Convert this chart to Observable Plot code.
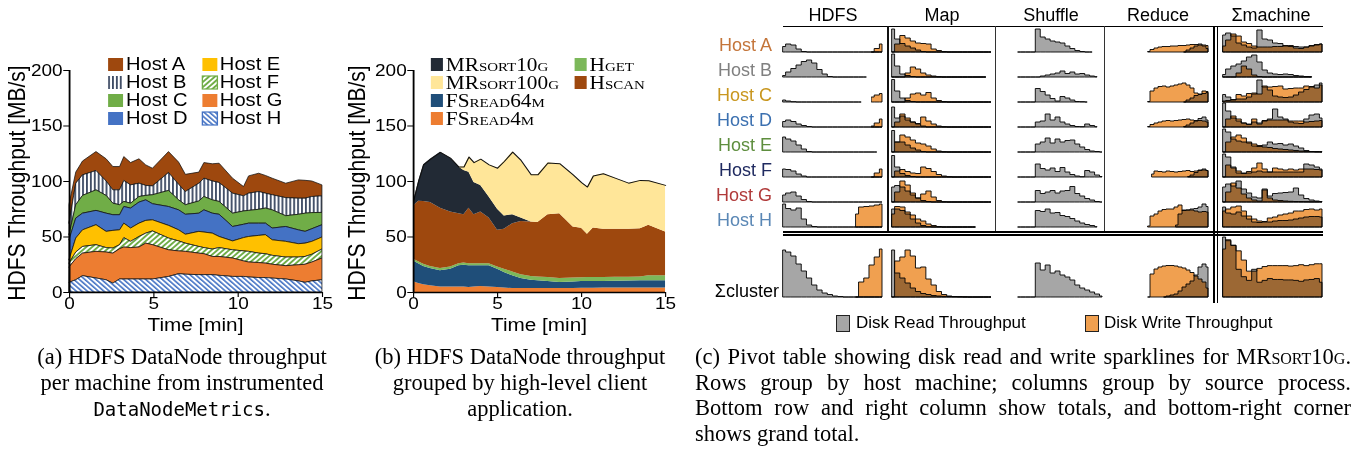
<!DOCTYPE html>
<html><head><meta charset="utf-8">
<script src="https://cdn.jsdelivr.net/npm/d3@7"></script>
<script src="https://cdn.jsdelivr.net/npm/@observablehq/plot@0.6"></script>
<style>
html,body{margin:0;padding:0;background:#fff;}
body{width:1364px;height:467px;overflow:hidden;position:relative;font-family:"Liberation Sans",Arial,sans-serif;color:#000;}
#root{position:absolute;left:0;top:0;width:1364px;height:467px;}
.t{position:absolute;white-space:nowrap;line-height:1.15;}
.serif{font-family:"Liberation Serif","Times New Roman",serif;}
.sc{font-variant:small-caps;}
.mono{font-family:"DejaVu Sans Mono",monospace;}
</style></head><body>
<svg width="0" height="0" style="position:absolute;left:0;top:0">
<defs>
<pattern id="patB" patternUnits="userSpaceOnUse" width="3.4" height="10"><rect width="3.4" height="10" fill="#fff"/><rect width="1.6" height="10" fill="#3e4b64"/></pattern>
<pattern id="patF" patternUnits="userSpaceOnUse" width="3.6" height="4" patternTransform="rotate(45)"><rect width="3.6" height="4" fill="#fff"/><rect width="1.8" height="4" fill="#70ad47"/></pattern>
<pattern id="patH" patternUnits="userSpaceOnUse" width="3.4" height="4" patternTransform="rotate(-45)"><rect width="3.4" height="4" fill="#fff"/><rect width="1.5" height="4" fill="#4472c4"/></pattern>
</defs></svg>
<div id="root"></div>
<script>
// ---------------- Panel (a) data: per-host HDFS throughput [MB/s] ----------------
const timesA = [0,0.4,0.8,1.6,2.2,2.6,3,3.25,3.65,4.15,4.55,4.95,5.9,6.5,6.9,7.7,8,8.5,8.9,9.7,10.35,10.65,11.25,11.65,12.05,12.85,13.6,14,14.4,15];
const hostNames = ["Host A","Host B","Host C","Host D","Host E","Host F","Host G","Host H"];
const hostA = [17,10,12.5,17.1,20,21,21,21.6,20.1,22,18.5,15.9,18.9,20,15.5,10,14.1,15.5,17.4,13.5,8.4,15.6,16.5,16,14.9,13,16.5,16.1,14,9.9];
const hostB = [10.4,19.4,18.5,17.4,13,12,13.4,18.8,16.5,12,9,8,16.1,14,11.9,16,16.5,17,17,18,13.6,15.5,16,13.4,13.6,16.3,14.5,13.5,14.5,14.9];
const hostC = [4.6,12,16,18.5,16,10.4,9,4.6,4.4,5,4,8.1,14.5,9,8.6,11,12,12,11.6,12,12,11.5,12.5,13.6,16.4,9.7,14,16.4,14.5,11.1];
const hostD = [18,18,15,12.9,16.4,14.1,13.6,15,18,19,18.5,14.5,17,18,18,16.4,20,18,20,13,12,12,11,10.4,10.6,13.4,12.5,10.6,11.4,11.1];
const hostE = [3,12.6,15,18,14.6,15.9,13.4,13,12,12,11.5,10,11.4,10,8,13.6,14,14.3,10,8,12,13.4,16,17.1,14,14.1,12,12,11.6,10.8];
const hostF = [3.5,6,6,6,4,4.6,3.6,8.5,5.6,9.5,9,12.4,10.6,9,7.4,6,5.5,6.7,8,7.4,9,9.6,8.5,8.5,8,7.8,7,7,7,8.1];
const hostG = [13.8,19,20.3,24,25,27,27.3,28.8,28.3,28.8,32.3,30.9,24,20.5,20.6,19.4,18.9,16.4,17,16.6,14,13.5,13.5,13,12.5,12,14.5,16.3,17,19.6];
const hostH = [8.7,11,14.7,12.6,11,8,11.7,11.7,11.7,11.7,11.7,11.7,14,16.5,16,15.6,15.6,15.6,15,14,14,13.5,13,13,12.5,11.7,10,8.7,10,11];
const hostFills = ["#9e480e","url(#patB)","#70ad47","#4472c4","#ffc000","url(#patF)","#ed7d31","url(#patH)"];

// ---------------- Panel (b) data: per-application throughput [MB/s] ----------------
const timesB = [0,0.3,0.6,1,1.6,2.2,2.7,3,3.3,3.6,4,4.5,5,5.4,5.9,6.4,7,7.4,8,8.7,9.5,10,10.35,10.7,11.3,12,12.8,13.5,14,15];
const appNames = ["FSread4m","FSread64m","Hget","Hscan","MRsort10g","MRsort100g"];
const fsread4m = [9.6,8,7,6,5,5,5,5,4.5,5,5.5,5,4.5,4,3.5,3.5,3.5,3.5,3.5,3.5,3.5,3.8,3.8,3.8,4,4,4,4,4,4];
const fsread64m = [18.8,18,16.5,15.5,14.5,16,19,19.5,19.5,19,18.5,19,16.5,14,11.5,9,7.5,7,6.5,5.5,6,6,6.2,6.2,6,6.2,6.3,6.5,6.5,6.5];
const hget = [1.6,1.8,2,2,2,2,2,2,2,2,2,2,2,3,3.5,3.5,3.5,3.5,3.5,3.5,3.5,3.5,3.5,3.5,3.5,3.5,3.5,3.5,4.5,4.5];
const hscan = [48,54.5,56.5,57.5,54.5,49.5,45,43.5,50,44,46.5,41,33,36,43.5,48,49,49,56.5,58.5,46,44.5,38.9,44.5,43.5,43.3,43.2,43.5,45.5,39.5];
const mrsort10g = [4,17.7,33,39,50.3,48.5,42,40,32.4,29,24,19,19,12,8,3,0,0,0,0,0,0,0,0,0,0,0,0,0,0];
const mrsort100g = [0,0,0,0,0,0,0,3,13.6,18,23.6,29,37,49,56.5,52,42.5,43,46.6,45,47,41.2,42.6,47,50,46,41.5,43.5,40.1,42];
const appFills = ["#ed7d31","#1f4e79","#7cb85a","#9e480e","#222a35","#ffe699"];

// ---------------- Panel (c) data: sparklines (relative disk throughput) ----------------
const pivotCols = ["HDFS","Map","Shuffle","Reduce","Σmachine"];
const pivotRowColors = ["#c4753a","#808080","#c8961e","#3b70b0","#5e8e3e","#1f2a60","#b03a3a","#5a87b5"];
const hdfsRead = [
 [5.5,8,7,3,0.5,0,0,0,0,0,0,0,0,0,0,0,0,0,0,0],
 [1.5,5,8.5,12,15.5,17,14,7.5,3,0.5,0,0,0,0,0,0,0,null,null,null],
 [2,1,0.3,0,0,0,0,0,0,0,0,0,0,0,0,0,null,null,null,null],
 [5.5,7,5.5,3,1.5,0.5,0,0,0,0,0,0,0,0,0,0,0,0,0,0],
 [15,13,11,7,3,0.5,0,0,0,0,0,0,0,0,0,0,0,0,0,null],
 [8,7.5,6,3,1,0,0,0,0,0,0,0,0,0,0,0,0,0,0,0],
 [7,9,10,6,2.5,0.5,0,0,0,0,0,0,0,0,0,0,0,0,0,0],
 [23,18.5,17,19,8,2,0.5,0,0,0,0,0,0,0,0,0,0,0,0,0]];
const hdfsWrite = [
 [null,null,null,null,null,null,null,null,null,null,null,null,null,null,null,null,null,0,3.5,8],
 null,
 [null,null,null,null,null,null,null,null,null,null,null,null,null,null,null,null,null,5,7,8.5],
 [null,null,null,null,null,null,null,null,null,null,null,null,null,null,null,null,null,1,4,8],
 null,
 [null,null,null,null,null,null,null,null,null,null,null,null,null,null,null,null,null,0,4,8],
 null,
 [null,null,null,null,null,null,null,null,null,null,null,null,null,null,13,20,20.5,21,22,23]];
const mapRead = [
 [23,13,8.5,6,4,2,0.5,0,0,0,0,0,0,0,0,0,0,0,0,0],
 [23,11,3,1.5,0.5,0,0,0,0,0,0,0,0,0,0,0,0,0,0,null],
 [22.5,11,4,1.5,0.5,0,0,0,0,0,0,0,0,0,0,0,0,0,0,0],
 [20,9,11,7,5,3,1,0,0,0,0,0,0,0,0,0,0,0,0,0],
 [21.5,10,10,7,4,2,0.5,0,0,0,0,0,0,0,0,0,0,0,0,0],
 [21.5,10,3.5,1.5,0.5,0,0,0,0,0,0,0,0,0,0,0,0,0,0,0],
 [15,16.5,15,11,7,4,1.5,0.5,0,0,0,0,0,0,0,0,0,0,0,0],
 [18,18,16.5,13,8,4,1.5,0.3,0,0,0,0,0,0,0,0,0,null,null,null]];
const mapWrite = [
 [0,8,16.5,14,11,9,8.5,8,3,1.5,0.5,0,0,0,0,0,0,0,0,0],
 [0,0,0,4,10,8,4,2,1,0.3,0,0,0,0,0,0,0,0,0,null],
 [0,0,0,4,8,9,7,9.5,4,1.5,0.5,0,0,0,0,0,0,0,0,0],
 [0,5,13,9,5,3.5,10,6,3,1,0.3,0,0,0,0,0,0,0,0,0],
 [0,10,17,15,12,9,8,6,3,1,0.3,0,0,0,0,0,0,0,0,0],
 [0,6,7.5,5.5,4,3.5,10,8.5,5.5,2.5,1,0.3,0,0,0,0,0,0,0,0],
 [0,10,21,17,9,4,8,11,5,1.5,0.3,0,0,0,0,0,0,0,0,0],
 [13,20.5,20,15,12,8,6,3,1.5,0.5,0,0,0,0,0,0,0,null,null,null]];
const shuffleRead = [
 [0,0,0,0,23,15,13,11,10,9,6,3.5,1.5,0.5,0,0,null,null],
 [0,0,0,0,0,1,2,3,4,6,3.5,5,3,3.5,2,1,0.3,null],
 [0,0,0,0,13.5,10.5,7,3.5,1,5.5,4,2,0.5,0.3,0,null,null,null],
 [0,0,0,0,5,6,13,7,10,5,3,1.5,0.5,0.3,3,1.5,0.3,null],
 [0,0,0,0,8,10,14,9,13,10,11.5,12,8,5,2.5,1,0.5,0],
 [0,0,0,0,13,8.5,7,9,5.5,9.5,5,2.5,1,0.3,6.5,5,2,0.5],
 [0,0,0,0,11.5,8.5,10,11.5,9,11,11.5,15.5,8.5,6,3.5,2,0.5,0],
 [0,0,0,0,16.5,15.5,18,14,14.5,11.5,10.5,8.5,6,4,2.5,1.5,0.3,null]];
const reduceRead = [
 [null,null,null,null,null,null,null,null,null,0,2,4,6,8,6,3.5],
 null,
 [null,null,null,null,null,null,null,null,null,0,2,4,6.5,7.5,8.5,9.5],
 [null,null,null,null,null,null,null,null,null,0.5,2,4,6,8.5,10,7],
 null,
 [null,null,null,null,null,null,null,null,null,null,0.5,2,4.5,6.5,8,6.5],
 null,
 [null,null,null,null,null,null,null,2,13,17,17,18,18.5,20,23,20.5]];
const reduceWrite = [
 [0.5,2.5,4,5,5.5,5.5,6,6,6.5,6.5,7,7.5,7.5,7,7,6.5],
 null,
 [0.5,11,14,15.5,16,15,16,17,18,19,17,14,9,8,11,10.5],
 [0.5,2.5,4,5,6,6.5,6,6.5,7,7.5,8,7,6.5,6.5,6,5],
 null,
 [null,3,6,5.5,5,6,5.5,5,5.5,6,6.5,5.5,6,7,7,6.5],
 null,
 [1,11,13,16,17.5,18,18,20,22,16.5,17,17,16,15,15.5,15]];
const machineRead = [
 [17,19,16,9,7,5,4,22,13,12,9,8.5,6,5.5,5.5,5,5,6,7,8],
 [2.5,8,11,13,16,20,22,15,7,4,3,2.5,3,2.5,1.5,1,0.5,0.3,null,null],
 [7.5,5,2,3,3,5,8,22,15,12,6,5,4.5,5,7,10,12.5,15,17,19],
 [24,16,9,6,4,3,5,4,6,8,18,10,8,5,4,3.5,8,12,13,9],
 [23,20,13,11,10,9,6,5.5,7,10,8,8.5,7,8,6,4,1.5,0.5,0.3,0.2],
 [23,20,10,4,4,4,5,6,5,5,5,5,5,5,5,5,13,12,10,8],
 [15,18,16,21,13,9,5,4,13,6,8.5,9,9.5,10,14,7,3.5,2,1,0.5],
 [20,14,13,15,11,8,5,4.5,5,5,6,6.5,6.5,7,8,9,10,10.5,10.5,10]];
const machineWrite = [
 [6,12,18,16,10,8.5,6,5,5,5,5.5,5.5,6.5,6.5,4,3.5,5,6.5,7.5,8],
 [0,0,0,4,11,8,2,0.5,0,0,0,0,0,0,0,0,0,0,null,null],
 [1,1.5,2.5,7.5,6,8.5,9,8,16,15,15.5,16,13,13.5,14,14,16,15.5,14,17],
 [0,8,11,8,4,2.5,8,3,6.5,7,7,7,7,6,6,6,5,5.5,6,6.5],
 [0,10,15,17,14,10,8,6.5,5,4.5,3.5,3,2.5,2,1.5,1,0.7,0.5,0.3,0.2],
 [0,12,9,6,3.5,5.5,9,14,8,5,9,8,7,8,7,8,8,8,7.5,7],
 [0,10,19,14,8,4,2,1,12,4,2,1.5,1,0.7,0.5,0.4,0.3,0.2,0.2,0.2],
 [16,18,20,21,16,11,8,6,5.5,9,10,12,13,14,16,16,17.5,18,17,18]];
const clusterRead = [
 [47,45,41,33,26,19,12,7,4,2.5,1,0.5,0,0,0,0,0,0,0,0],
 [47,24,19,14,9,5.5,3.5,2.5,1.5,1,0.7,0.5,0.3,0.2,0,0,0,0,0,0],
 [0,0,0,0,34,27,32,24,26,22,20,17,12,9,7,5,3,1],
 [null,null,null,null,0,1,2,3,6,10,13,16,22,30,33,30],
 [65,61,56,30,22,18,30,16,18,20,19,19,18.5,18.5,18,17,18.5,19,20,16]];
const clusterWrite = [
 [null,null,null,null,null,null,null,null,null,null,null,null,null,null,0,15,19,32,40,48],
 [0,36,40,47,41,29,30,18,12,5.5,2.5,1,0.5,0.3,0.2,0,0,0,0,0],
 null,
 [0,23,28,30,31,31.5,31.5,31,30,29,27,24.5,21,18,15,9],
 [52,62,56,50,40,28,28,31,33,34,34,34,34,33.5,34,35,34,35,36,36]];

// ---------------- helpers ----------------
const root = document.getElementById("root");
function box(left, top, w, h, css) {
  const d = document.createElement("div");
  d.style.cssText = `position:absolute;left:${left}px;top:${top}px;width:${w}px;height:${h}px;` + (css || "");
  return d;
}
function text(parent, html, x, y, css, anchor) {
  const d = document.createElement("div");
  d.className = "t";
  d.innerHTML = html;
  const tx = anchor === "end" ? "-100%" : anchor === "start" ? "0" : "-50%";
  d.style.cssText += `left:${x}px;top:${y}px;transform:translate(${tx},-50%);` + (css || "");
  parent.appendChild(d);
  return d;
}
const S = 1.15; // horizontal stretch of panels (a) and (b)

function stackPanel(left, names, fills, times, series, mLeft, mRight, strokeAll, legendCols, legendX, legendTextDx, swW, legendCss) {
  const W = 340 / S;
  const panel = box(left, 0, W, 330, `transform:scaleX(${S});transform-origin:0 0;`);
  root.appendChild(panel);
  const data = [];
  series.forEach((vals, k) => times.forEach((t, i) => data.push({name: names[k], t, v: vals[i]})));
  const marks = [];
  if (strokeAll) {
    marks.push(Plot.areaY(data, {x: "t", y: "v", z: "name", fill: "name", order: strokeAll.order, stroke: "#111", strokeWidth: 0.7}));
  } else {
    marks.push(Plot.areaY(data, {x: "t", y: "v", z: "name", fill: "name", order: names.slice()}));
    const totals = times.map((t, i) => ({t, v: d3.sum(series, s => s[i])}));
    marks.push(Plot.lineY(totals, {x: "t", y: "v", stroke: "#111", strokeWidth: 1}));
  }
  marks.push(Plot.ruleX([0], {strokeWidth: 1.6}));
  marks.push(Plot.ruleY([0], {strokeWidth: 1.6}));
  const svg = Plot.plot({
    width: W, height: 330, marginLeft: mLeft, marginRight: mRight, marginTop: 70, marginBottom: 38,
    style: {fontFamily: "Liberation Sans, Arial, sans-serif", fontSize: "16.5px", background: "transparent", color: "#000", overflow: "visible"},
    x: {domain: [0, 15], ticks: [0, 5, 10, 15], tickSize: 5, tickPadding: 0, label: null},
    y: {domain: [0, 200], ticks: [0, 50, 100, 150, 200], tickSize: 5, tickPadding: 1, label: null},
    color: {domain: names, range: fills},
    marks
  });
  svg.style.position = "absolute"; svg.style.left = "0px"; svg.style.top = "0px";
  panel.appendChild(svg);
  text(panel, "HDFS Throughput [MB/s]", 15, 183, "font-size:21px;transform:translate(-50%,-50%) rotate(-90deg);");
  const plotMid = mLeft + (W - mLeft - mRight) / 2;
  text(panel, "Time [min]", plotMid, 324.5, "font-size:18px;line-height:1;");
  legendCols.forEach((col, c) => col.forEach((k, r) => {
    const cy = 64.5 + 18 * r;
    const sw = document.createElementNS("http://www.w3.org/2000/svg", "svg");
    sw.setAttribute("width", swW); sw.setAttribute("height", 13);
    sw.style.cssText = `position:absolute;left:${legendX[c]}px;top:${cy - 6.5}px;overflow:visible`;
    const rc = document.createElementNS("http://www.w3.org/2000/svg", "rect");
    rc.setAttribute("width", swW); rc.setAttribute("height", 13); rc.setAttribute("fill", fills[k]);
    if (fills[k].startsWith("url")) {
      const base = {"url(#patF)": "#70ad47", "url(#patH)": "#4472c4", "url(#patB)": "none"}[fills[k]];
      rc.setAttribute("stroke", base); rc.setAttribute("stroke-width", 1.2);
    }
    sw.appendChild(rc); panel.appendChild(sw);
    text(panel, legendCss.fmt(names[k]), legendX[c] + legendTextDx, cy, legendCss.css + "line-height:1;", "start");
  }));
}

// ---------------- Panel (a) ----------------
stackPanel(0, hostNames, hostFills, timesA,
  [hostA, hostB, hostC, hostD, hostE, hostF, hostG, hostH],
  60, 15.7, {order: ["Host H","Host G","Host F","Host E","Host D","Host C","Host B","Host A"]},
  [[0,1,2,3],[4,5,6,7]], [94, 175.7], 15.5, 13,
  {fmt: s => s, css: "font-size:17.5px;"});

// ---------------- Panel (b) ----------------
stackPanel(340, appNames, appFills, timesB,
  [fsread4m, fsread64m, hget, hscan, mrsort10g, mrsort100g],
  63.5, 13, null,
  [[4,5,1,0],[2,3]], [79, 204], 13, 10.5,
  {fmt: s => `<span class="serif sc">${s}</span>`, css: "font-size:18.5px;"});

// ---------------- Panel (c): pivot table of sparklines ----------------
const READ = "#a6a6a6", WRITE = "#f0a050";
const colX = [[783, 882], [892, 991], [1018, 1102], [1148, 1208], [1223, 1322]];
function spark(read, write, x0, x1, base, hpx, ymax) {
  const arr = read || write; if (!arr) return;
  const n = arr.length;
  const mk = a => a.map((v, i) => ({i, v}));
  const marks = [];
  if (read) marks.push(Plot.areaY(mk(read), {x: "i", y1: 0, y2: "v", fill: READ, stroke: "#000", strokeWidth: 0.9, curve: "step"}));
  if (write) marks.push(Plot.areaY(mk(write), {x: "i", y1: 0, y2: "v", fill: WRITE, stroke: "#000", strokeWidth: 0.9, curve: "step"}));
  const svg = Plot.plot({
    width: x1 - x0 + 2, height: hpx + 2, marginTop: 1, marginBottom: 1, marginLeft: 1, marginRight: 1,
    x: {domain: [0, n - 1], axis: null}, y: {domain: [0, ymax], axis: null},
    style: {background: "transparent", overflow: "visible"}, marks
  });
  svg.querySelectorAll(`[fill="${WRITE}"]`).forEach(e => e.style.mixBlendMode = "multiply");
  svg.style.position = "absolute"; svg.style.left = (x0 - 1) + "px"; svg.style.top = (base - hpx - 1) + "px";
  root.appendChild(svg);
}
const readCols = [hdfsRead, mapRead, shuffleRead, reduceRead, machineRead];
const writeCols = [hdfsWrite, mapWrite, null, reduceWrite, machineWrite];
hostNames.forEach((h, r) => {
  const base = 51.7 + 25 * r;
  text(root, h, 772, base - 7, `font-size:18px;color:${pivotRowColors[r]};`, "end");
  readCols.forEach((rc, c) => {
    spark(rc[r], writeCols[c] ? writeCols[c][r] : null, colX[c][0], colX[c][1], base, 24, 24);
  });
});
text(root, "Σcluster", 779, 291, "font-size:18px;", "end");
clusterRead.forEach((rd, c) => {
  if (c < 4) spark(rd, clusterWrite[c], colX[c][0], colX[c][1], 297, 48, 48);
  else spark(rd, clusterWrite[c], colX[c][0], colX[c][1], 297, 60, 65);
});
const headX = [833, 942, 1051, 1158, 1271];
pivotCols.forEach((h, c) => text(root, h, headX[c], 15, "font-size:18px;"));
root.appendChild(box(783, 25.5, 540, 1.3, "background:#000"));
root.appendChild(box(886.5, 26, 2, 205, "background:#111"));
root.appendChild(box(995, 26, 1.3, 205, "background:#333"));
root.appendChild(box(1104, 26, 1.3, 205, "background:#333"));
root.appendChild(box(1212.5, 26, 2.2, 277, "background:#000"));
root.appendChild(box(1216.8, 26, 1.3, 277, "background:#000"));
root.appendChild(box(783, 230.5, 540, 2.2, "background:#000"));
root.appendChild(box(783, 234.3, 540, 1.3, "background:#000"));
root.appendChild(box(836, 314.5, 12, 15, `background:${READ};border:1px solid #222;`));
text(root, "Disk Read Throughput", 856, 322.5, "font-size:17px;", "start");
root.appendChild(box(1085, 314.5, 12, 15, `background:${WRITE};border:1px solid #222;`));
text(root, "Disk Write Throughput", 1104, 322.5, "font-size:17px;", "start");

// ---------------- captions ----------------
const capCss = "font-size:22.5px;";
text(root, "(a) HDFS DataNode throughput", 182, 357, capCss, "middle").classList.add("serif");
text(root, "per machine from instrumented", 182, 383, capCss, "middle").classList.add("serif");
text(root, `<span class="mono" style="font-size:19px">DataNodeMetrics</span>.`, 182, 409, capCss, "middle").classList.add("serif");
text(root, "(b) HDFS DataNode throughput", 520, 357, capCss, "middle").classList.add("serif");
text(root, "grouped by high-level client", 520, 383, capCss, "middle").classList.add("serif");
text(root, "application.", 520, 409, capCss, "middle").classList.add("serif");
const capC = [
  `(c) Pivot table showing disk read and write sparklines for MR<span class="sc">sort10g</span>.`,
  "Rows group by host machine; columns group by source process.",
  "Bottom row and right column show totals, and bottom-right corner",
  "shows grand total."];
capC.forEach((l, i) => {
  const d = text(root, l, 695, 357 + 25.7 * i, capCss + (i < 3 ? "width:656px;white-space:normal;text-align:justify;text-align-last:justify;" : ""), "start");
  d.classList.add("serif");
});
</script></body></html>
